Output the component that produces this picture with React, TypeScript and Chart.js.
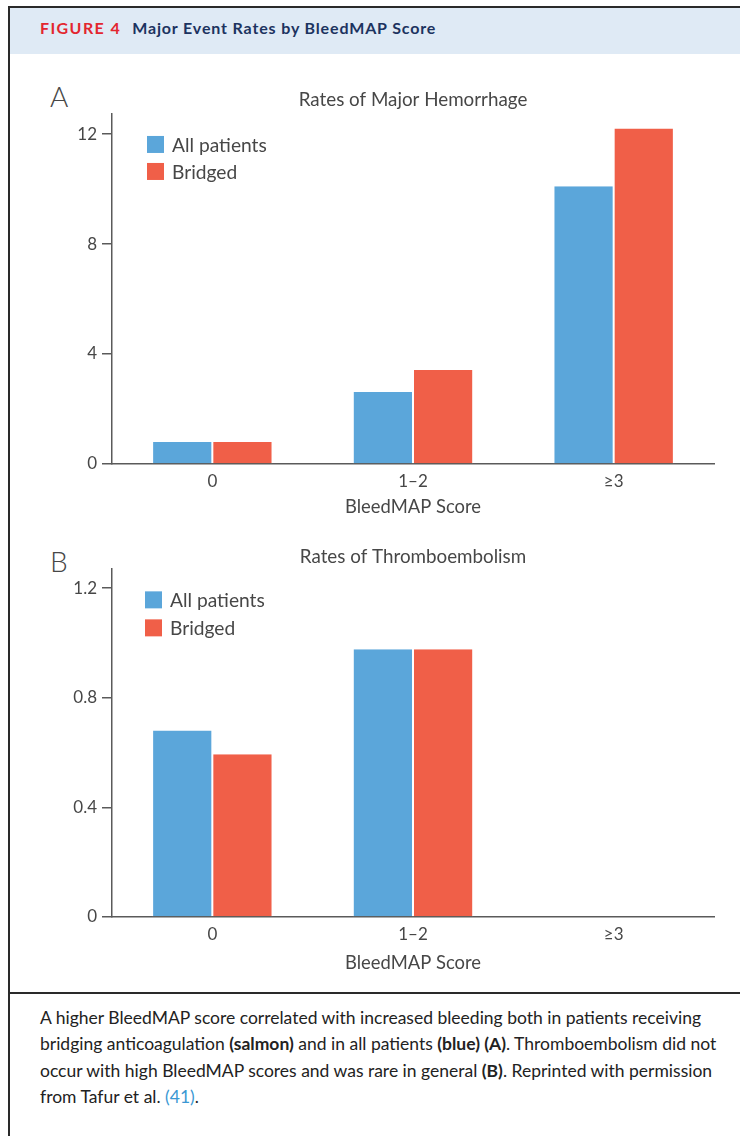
import React, { useEffect, useRef } from 'react';
import { Chart, registerables } from 'chart.js';

Chart.register(...registerables);

// ---------- data ----------
const categories = ['0', '1–2', '≥3'];
const seriesNames = ['All patients', 'Bridged'];
const hemorrhageAll = [0.8, 2.62, 10.1];
const hemorrhageBridged = [0.8, 3.42, 12.2];
const thromboAll = [0.68, 0.977, 0];
const thromboBridged = [0.594, 0.977, 0];
const hemorrhageTicks = [0, 4, 8, 12];
const thromboTicks = [0, 0.4, 0.8, 1.2];
const hemorrhageMax = 12.73;
const thromboMax = 1.272;

// ---------- styles ----------
const FONT = "Lato, 'Open Sans', sans-serif";
const BLUE = '#5BA6DA';
const RED = '#F05F48';
const AXIS = '#5a5a5a';
const TEXT = '#474747';

const insideLegend = {
  id: 'insideLegend',
  afterDatasetsDraw(chart: any, _args: any, opts: any) {
    const { ctx, chartArea } = chart;
    ctx.save();
    ctx.font = `${opts.fontSize}px ${FONT}`;
    ctx.textBaseline = 'middle';
    ctx.textAlign = 'left';
    chart.data.datasets.forEach((ds: any, i: number) => {
      const x = chartArea.left + opts.offsetX;
      const y = chartArea.top + opts.offsetY + i * opts.rowGap;
      ctx.fillStyle = ds.backgroundColor;
      ctx.fillRect(x, y, opts.box, opts.box);
      ctx.fillStyle = TEXT;
      ctx.fillText(ds.label, x + opts.box + opts.textGap, y + opts.box / 2 + 1);
    });
    ctx.restore();
  },
};

interface PanelProps {
  title: string;
  all: number[];
  bridged: number[];
  ticks: number[];
  max: number;
  yAxisWidth: number;
  xAxisHeight: number;
  titlePad: { top: number; bottom: number };
  xTitlePadBottom: number;
  legend: { offsetX: number; offsetY: number; rowGap: number };
  height: number;
  top: number;
}

function Panel(p: PanelProps) {
  const ref = useRef<HTMLCanvasElement>(null);
  useEffect(() => {
    if (!ref.current) return;
    const chart = new Chart(ref.current, {
      type: 'bar',
      data: {
        labels: categories,
        datasets: [
          {
            label: seriesNames[0],
            data: p.all,
            backgroundColor: BLUE,
            borderColor: '#ffffff',
            borderWidth: { left: 1, right: 1, top: 0, bottom: 0 },
            borderSkipped: false,
          },
          {
            label: seriesNames[1],
            data: p.bridged,
            backgroundColor: RED,
            borderColor: '#ffffff',
            borderWidth: { left: 1, right: 1, top: 0, bottom: 0 },
            borderSkipped: false,
          },
        ],
      },
      plugins: [insideLegend],
      options: {
        animation: false,
        responsive: false,
        devicePixelRatio: 1,
        layout: { padding: { left: 0, right: 26, top: 0, bottom: 0 } },
        datasets: { bar: { categoryPercentage: 0.6, barPercentage: 1.0 } },
        plugins: {
          legend: { display: false },
          tooltip: { enabled: false },
          title: {
            display: true,
            text: p.title,
            fullSize: false,
            color: TEXT,
            font: { family: FONT, size: 18.8, weight: 'normal' },
            padding: p.titlePad,
          },
          insideLegend: { ...p.legend, box: 17, textGap: 8, fontSize: 19.2 },
        } as any,
        scales: {
          x: {
            grid: { display: false, drawTicks: false },
            border: { display: true, color: AXIS, width: 1.5 },
            ticks: {
              color: TEXT,
              font: { family: FONT, size: 17 },
              padding: 7,
            },
            title: {
              display: true,
              text: 'BleedMAP Score',
              color: TEXT,
              font: { family: FONT, size: 18.4 },
              padding: { top: 0, bottom: p.xTitlePadBottom },
            },
            afterFit: (s: any) => {
              s.height = p.xAxisHeight;
            },
          },
          y: {
            min: 0,
            max: p.max,
            grid: {
              display: true,
              drawOnChartArea: false,
              drawTicks: true,
              tickLength: 10,
              color: AXIS,
              lineWidth: 1.5,
            },
            border: { display: true, color: AXIS, width: 1.5 },
            ticks: {
              color: TEXT,
              font: { family: FONT, size: 17 },
              padding: 5,
            },
            afterBuildTicks: (s: any) => {
              s.ticks = p.ticks.map((v) => ({ value: v }));
            },
            afterFit: (s: any) => {
              s.width = p.yAxisWidth;
            },
          },
        },
      } as any,
    });
    return () => chart.destroy();
  }, []);
  return (
    <canvas
      ref={ref}
      width={732}
      height={p.height}
      style={{ position: 'absolute', left: 8, top: p.top, width: 732, height: p.height }}
    />
  );
}

export default function App() {
  return (
    <div
      style={{
        position: 'absolute',
        left: 0,
        top: 0,
        width: 740,
        height: 1136,
        overflow: 'hidden',
        background: '#fff',
        fontFamily: FONT,
      }}
    >
      {/* frame */}
      <div
        style={{
          position: 'absolute',
          left: 8,
          top: 6,
          width: 732,
          height: 1130,
          borderLeft: '2px solid #2a2a2a',
          borderTop: '2px solid #2a2a2a',
          boxSizing: 'border-box',
        }}
      />
      {/* header */}
      <div
        style={{
          position: 'absolute',
          left: 10,
          top: 8,
          width: 730,
          height: 46,
          background: '#DFEAF5',
        }}
      />
      <div
        style={{
          position: 'absolute',
          left: 40,
          top: 16,
          whiteSpace: 'nowrap',
          fontSize: 16,
          fontWeight: 'bold',
          lineHeight: '24px',
        }}
      >
        <span style={{ color: '#E3262F', letterSpacing: 1.4 }}>FIGURE 4</span>
        <span style={{ color: '#1C3360', marginLeft: 11, letterSpacing: 0.85 }}>Major Event Rates by BleedMAP Score</span>
      </div>

      {/* panel letters */}
      <div style={{ position: 'absolute', left: 50, top: 80, fontSize: 28, fontWeight: 300, color: TEXT, lineHeight: '32px' }}>A</div>
      <div style={{ position: 'absolute', left: 50, top: 545, fontSize: 28, fontWeight: 300, color: TEXT, lineHeight: '32px' }}>B</div>

      <Panel
        title="Rates of Major Hemorrhage"
        all={hemorrhageAll}
        bridged={hemorrhageBridged}
        ticks={hemorrhageTicks}
        max={hemorrhageMax}
        yAxisWidth={104}
        xAxisHeight={66}
        titlePad={{ top: 28.8, bottom: 2.6 }}
        xTitlePadBottom={12}
        legend={{ offsetX: 35, offsetY: 22, rowGap: 27 }}
        height={470}
        top={60}
      />
      <Panel
        title="Rates of Thromboembolism"
        all={thromboAll}
        bridged={thromboBridged}
        ticks={thromboTicks}
        max={thromboMax}
        yAxisWidth={104}
        xAxisHeight={75}
        titlePad={{ top: 15.8, bottom: 0 }}
        xTitlePadBottom={18}
        legend={{ offsetX: 33, offsetY: 23, rowGap: 28 }}
        height={462}
        top={530}
      />

      {/* divider */}
      <div style={{ position: 'absolute', left: 8, top: 992, width: 732, height: 2, background: '#2a2a2a' }} />

      {/* caption */}
      <div
        style={{
          position: 'absolute',
          left: 40,
          top: 1005,
          width: 690,
          fontSize: 17.5,
          lineHeight: '26.3px',
          color: '#222',
          whiteSpace: 'nowrap',
        }}
      >
        A higher BleedMAP score correlated with increased bleeding both in patients receiving
        <br />
        bridging anticoagulation <b>(salmon)</b> and in all patients <b>(blue) (A)</b>. Thromboembolism did not
        <br />
        occur with high BleedMAP scores and was rare in general <b>(B)</b>. Reprinted with permission
        <br />
        from Tafur et al. <span style={{ color: '#3A97D3' }}>(41)</span>.
      </div>
    </div>
  );
}
